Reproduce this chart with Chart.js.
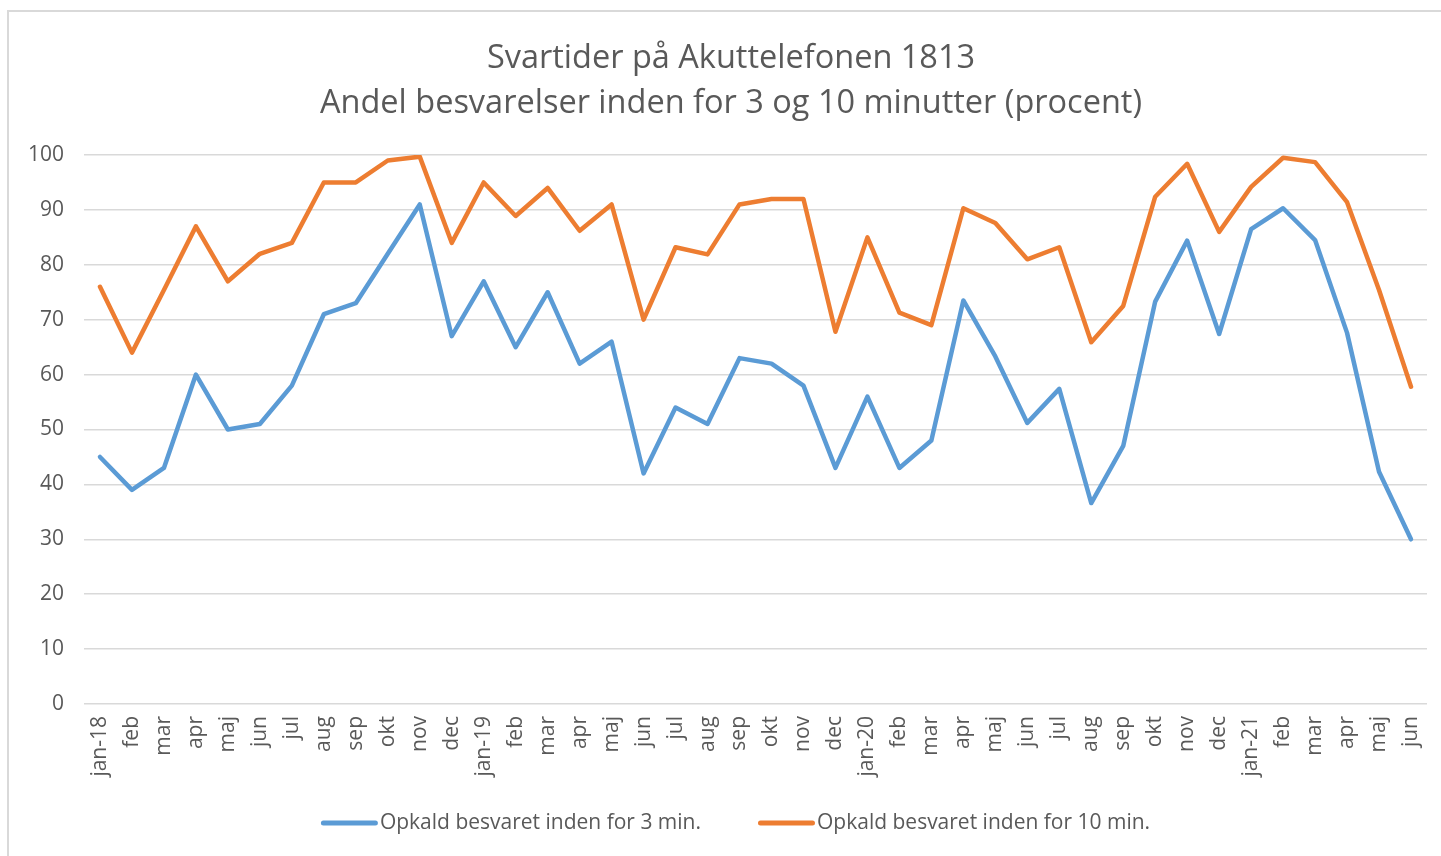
<!DOCTYPE html>
<html>
<head>
<meta charset="utf-8">
<script src="https://cdn.jsdelivr.net/npm/chart.js@4.4.1/dist/chart.umd.min.js"></script>
<style>
  html, body { margin: 0; padding: 0; background: #fff; overflow: hidden; width: 1441px; height: 856px; }
  #frame { position: absolute; left: 7px; top: 10px; width: 1460px; height: 900px; border: 2px solid #d9d9d9; box-sizing: border-box; }
  #wrap { position: absolute; left: 9px; top: 12px; width: 1444px; height: 844px; }
</style>
</head>
<body>
<div id="frame"></div>
<div id="wrap"><canvas id="c"></canvas></div>
<script>
const categories = ['jan-18','feb','mar','apr','maj','jun','jul','aug','sep','okt','nov','dec',
  'jan-19','feb','mar','apr','maj','jun','jul','aug','sep','okt','nov','dec',
  'jan-20','feb','mar','apr','maj','jun','jul','aug','sep','okt','nov','dec',
  'jan-21','feb','mar','apr','maj','jun'];
const within3 = [45,39,43,60,50,51,58,71,73,82,91,67,
  77,65,75,62,66,42,54,51,63,62,58,43,
  56,43,48,73.5,63.3,51.2,57.4,36.6,47,73.3,84.4,67.4,
  86.5,90.3,84.5,67.6,42.3,30];
const within10 = [76,64,75.4,87,77,82,84,95,95,99,99.7,84,
  95,88.9,94,86.2,91,70,83.2,81.9,91,92,92,67.8,
  85,71.3,69,90.3,87.6,81,83.2,65.9,72.5,92.4,98.4,86,
  94.2,99.5,98.7,91.4,75.4,57.8];
const seriesNames = ['Opkald besvaret inden for 3 min.','Opkald besvaret inden for 10 min.'];
const titleLines = ['Svartider på Akuttelefonen 1813','Andel besvarelser inden for 3 og 10 minutter (procent)'];
const yMin = 0, yMax = 100, yStep = 10;

const FONT = "'Open Sans', sans-serif";
const TXT = '#595959';

// Excel-style title (centred on the whole chart frame) and legend (line sample directly followed by the name)
const excelDecor = {
  id: 'excelDecor',
  afterDraw(chart) {
    const ctx = chart.ctx;
    ctx.save();
    ctx.textBaseline = 'middle';
    // title
    ctx.font = '32.5px ' + FONT;
    ctx.fillStyle = TXT;
    ctx.textAlign = 'center';
    titleLines.forEach((t, i) => ctx.fillText(t, chart.width / 2, 46.5 + i * 45));
    // legend
    ctx.font = '21px ' + FONT;
    ctx.textAlign = 'left';
    const lineW = 57, gapText = 2, gapItem = 57;
    const items = chart.data.datasets.map(ds => ({ text: ds.label, color: ds.borderColor, w: ctx.measureText(ds.label).width }));
    const total = items.reduce((s, it) => s + lineW + gapText + it.w, 0) + gapItem * (items.length - 1);
    let x = chart.width / 2 + 4.5 - total / 2;
    const y = chart.chartArea.bottom + 119;
    items.forEach(it => {
      ctx.strokeStyle = it.color;
      ctx.lineWidth = 5;
      ctx.lineCap = 'round';
      ctx.beginPath();
      ctx.moveTo(x + 2.5, y);
      ctx.lineTo(x + lineW - 2.5, y);
      ctx.stroke();
      ctx.fillStyle = TXT;
      ctx.fillText(it.text, x + lineW + gapText, y);
      x += lineW + gapText + it.w + gapItem;
    });
    ctx.restore();
  }
};

new Chart(document.getElementById('c'), {
  type: 'line',
  data: {
    labels: categories,
    datasets: [
      { label: seriesNames[0], data: within3, borderColor: '#5b9bd5', backgroundColor: '#5b9bd5',
        borderWidth: 4.5, pointRadius: 0, tension: 0, borderJoinStyle: 'round', borderCapStyle: 'round' },
      { label: seriesNames[1], data: within10, borderColor: '#ed7d31', backgroundColor: '#ed7d31',
        borderWidth: 4.5, pointRadius: 0, tension: 0, borderJoinStyle: 'round', borderCapStyle: 'round' }
    ]
  },
  plugins: [excelDecor],
  options: {
    responsive: true,
    maintainAspectRatio: false,
    animation: false,
    layout: { padding: { left: 0, right: 26, top: 143, bottom: 72 } },
    plugins: {
      tooltip: { enabled: false },
      legend: { display: false },
      title: { display: false }
    },
    scales: {
      x: {
        offset: true,
        grid: { display: false, drawTicks: false },
        border: { display: false },
        ticks: { color: TXT, font: { family: FONT, size: 21 }, maxRotation: 90, minRotation: 90, autoSkip: false, padding: 12 },
        afterFit(scale) { scale.height = 80; }
      },
      y: {
        min: yMin, max: yMax,
        grid: { color: '#d9d9d9', lineWidth: 1.5, drawTicks: false },
        border: { display: false },
        ticks: { stepSize: yStep, color: TXT, font: { family: FONT, size: 21 }, padding: 20 },
        afterFit(scale) { scale.width = 75; }
      }
    }
  }
});
</script>
</body>
</html>
